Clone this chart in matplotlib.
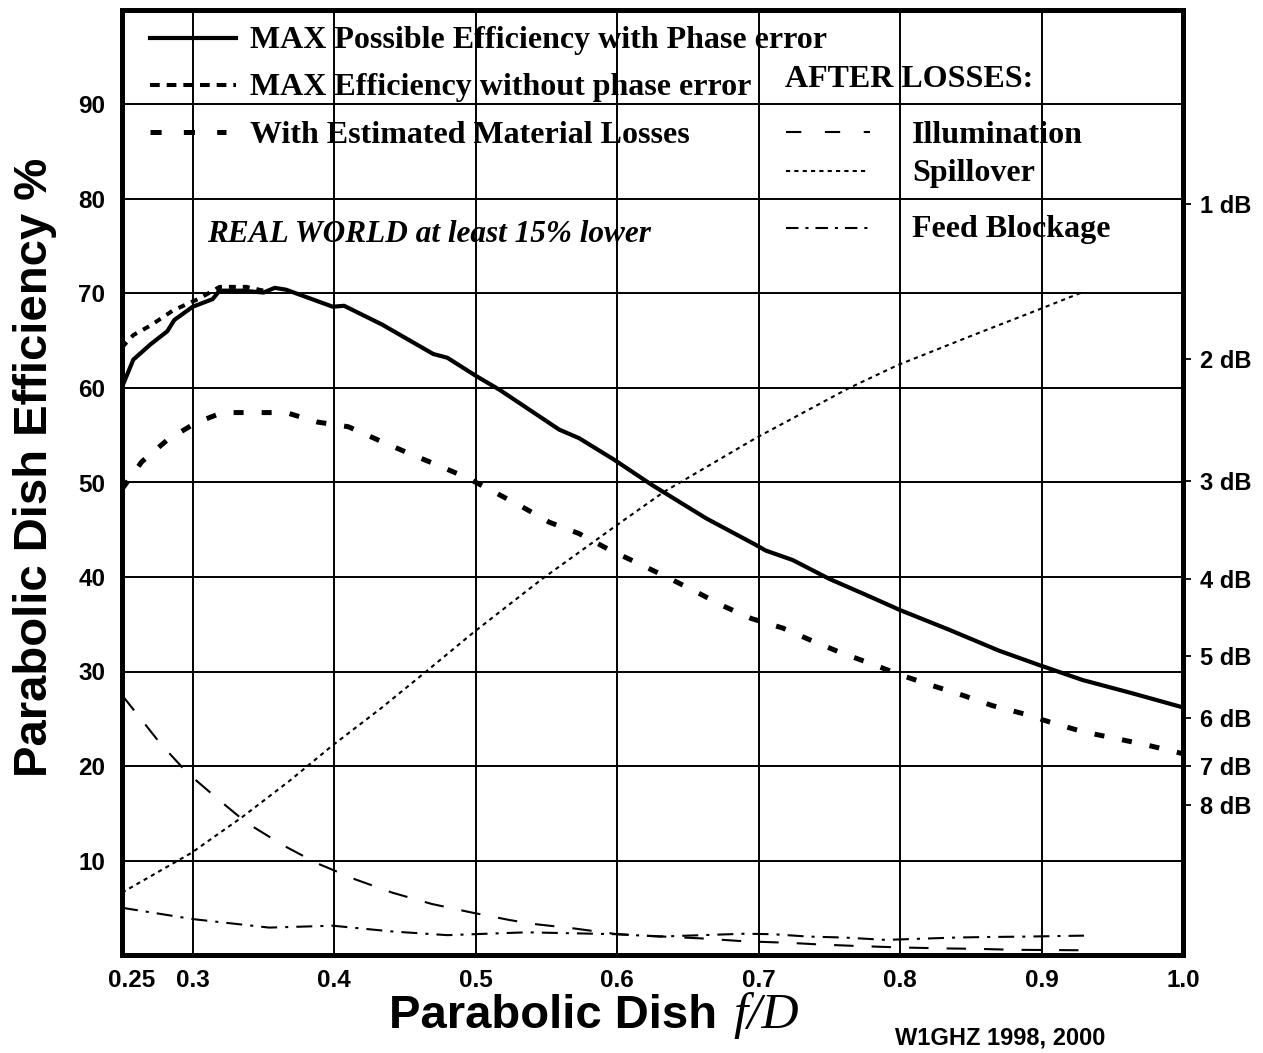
import matplotlib
matplotlib.use("Agg")
import matplotlib.pyplot as plt
from matplotlib.lines import Line2D
from matplotlib.transforms import ScaledTranslation

plt.rcParams['lines.scale_dashes'] = False
SANS = 'Liberation Sans'
SERIF = 'Liberation Serif'

# ---- data (f/D vs efficiency %) ----
fd_phase = [0.25, 0.258, 0.27, 0.282, 0.287, 0.30, 0.314, 0.319, 0.335, 0.35, 0.358, 0.366,
            0.399, 0.407, 0.434, 0.47, 0.48, 0.50, 0.517, 0.559, 0.573, 0.598, 0.625, 0.663,
            0.698, 0.705, 0.724, 0.75, 0.776, 0.80, 0.835, 0.87, 0.898, 0.929, 0.964, 1.0]
eff_phase = [60.1, 63.0, 64.6, 66.0, 67.2, 68.6, 69.4, 70.3, 70.3, 70.1, 70.6, 70.4,
             68.6, 68.7, 66.7, 63.6, 63.2, 61.3, 59.8, 55.6, 54.7, 52.4, 49.7, 46.2,
             43.4, 42.8, 41.8, 39.8, 38.1, 36.5, 34.4, 32.2, 30.7, 29.1, 27.7, 26.2]

fd_nophase = [0.25, 0.258, 0.27, 0.286, 0.305, 0.319, 0.338, 0.35]
eff_nophase = [64.3, 65.6, 66.6, 68.2, 69.5, 70.7, 70.7, 70.3]

fd_material = [0.25, 0.264, 0.282, 0.302, 0.321, 0.345, 0.366, 0.388, 0.41, 0.431, 0.451, 0.472,
               0.494, 0.532, 0.552, 0.573, 0.593, 0.614, 0.635, 0.655, 0.674, 0.695, 0.717,
               0.737, 0.758, 0.78, 0.801, 0.823, 0.844, 0.865, 0.888, 0.909, 0.93, 0.953,
               0.975, 1.0]
eff_material = [49.3, 52.2, 54.5, 56.3, 57.4, 57.4, 57.4, 56.4, 55.9, 54.5, 53.2, 51.9,
                50.5, 47.5, 45.8, 44.6, 43.0, 41.5, 40.0, 38.5, 37.0, 35.6, 34.6,
                33.3, 32.0, 30.8, 29.6, 28.5, 27.5, 26.4, 25.5, 24.5, 23.6, 22.9,
                22.2, 21.3]

fd_spill = [0.25, 0.299, 0.335, 0.369, 0.399, 0.433, 0.465, 0.499, 0.547, 0.598, 0.633,
            0.698, 0.764, 0.798, 0.85, 0.898, 0.93]
eff_spill = [6.6, 10.8, 14.6, 18.5, 22.2, 26.1, 30.0, 34.2, 39.8, 45.3, 49.0,
             54.7, 60.0, 62.4, 65.5, 68.3, 70.2]

fd_illum = [0.25, 0.277, 0.296, 0.317, 0.338, 0.364, 0.388, 0.415, 0.441, 0.469, 0.497,
            0.524, 0.54, 0.57, 0.6, 0.66, 0.69, 0.72, 0.745, 0.77, 0.8, 0.83, 0.855,
            0.88, 0.93]
eff_illum = [27.5, 22.4, 19.3, 16.6, 14.0, 11.6, 9.7, 8.0, 6.6, 5.4, 4.5,
             3.7, 3.3, 2.8, 2.2, 1.75, 1.45, 1.3, 1.1, 0.95, 0.8, 0.7, 0.65,
             0.55, 0.5]

fd_block = [0.25, 0.3, 0.354, 0.399, 0.44, 0.48, 0.517, 0.536, 0.6, 0.63, 0.69, 0.71,
            0.735, 0.76, 0.79, 0.81, 0.84, 0.86, 0.89, 0.93]
eff_block = [5.0, 3.8, 2.9, 3.1, 2.5, 2.1, 2.3, 2.4, 2.2, 1.95, 2.25, 2.2,
             1.95, 1.85, 1.6, 1.7, 1.85, 1.9, 1.95, 2.05]

x_ticks = [0.25, 0.3, 0.4, 0.5, 0.6, 0.7, 0.8, 0.9, 1.0]
x_labels = ['0.25', '0.3', '0.4', '0.5', '0.6', '0.7', '0.8', '0.9', '1.0']
y_ticks = [10, 20, 30, 40, 50, 60, 70, 80, 90]
db_values = [1, 2, 3, 4, 5, 6, 7, 8]

# line styles (points)
ST_SOLID = dict(color='black', lw=3.0, ls='-')
ST_NOPHASE = dict(color='black', lw=2.9, ls=(0, (5, 5)))
ST_MATERIAL = dict(color='black', lw=3.6, ls=(0, (7.2, 13)))
ST_SPILL = dict(color='black', lw=1.5, ls=(0, (3, 3)))
ST_ILLUM = dict(color='black', lw=1.5, ls=(0, (14, 13)))
ST_BLOCK = dict(color='black', lw=1.5, ls=(0, (11.5, 5.8, 2.2, 5.8)))

W, H = 1263, 1053
fig = plt.figure(figsize=(W / 100, H / 100), dpi=100)
ax = fig.add_axes([122 / W, 1 - 955 / H, (1183 - 122) / W, (955 - 10) / H])

ax.plot(fd_spill, eff_spill, **ST_SPILL)
ax.plot(fd_illum, eff_illum, **ST_ILLUM)
ax.plot(fd_block, eff_block, **ST_BLOCK)
ax.plot(fd_material, eff_material, **ST_MATERIAL)
ax.plot(fd_nophase, eff_nophase, **ST_NOPHASE)
ax.plot(fd_phase, eff_phase, **ST_SOLID)

ax.set_xlim(0.25, 1.0)
ax.set_ylim(0, 100)
ax.set_xticks(x_ticks)
ax.set_xticklabels(x_labels)
ax.set_yticks(y_ticks)
ax.grid(True, color='black', lw=1.4)
ax.set_axisbelow(True)
ax.tick_params(length=0, labelsize=17.5)
ax.tick_params(axis='y', pad=12)
ax.tick_params(axis='x', pad=10)
for lab in ax.get_xticklabels() + ax.get_yticklabels():
    lab.set_fontfamily(SANS)
    lab.set_fontweight('bold')
# the 0.25 label sits a little right of its tick in the original
first = ax.xaxis.get_major_ticks()[0].label1
first.set_transform(first.get_transform() + ScaledTranslation(0.10, 0, fig.dpi_scale_trans))
for sp in ax.spines.values():
    sp.set_linewidth(3.6)
    sp.set_zorder(5)

ax2 = ax.twinx()
ax2.set_ylim(0, 100)
ax2.set_yticks([100 * 10 ** (-d / 10) for d in db_values])
ax2.set_yticklabels([f'{d} dB' for d in db_values])
ax2.tick_params(axis='y', length=6, width=1.3, direction='out', pad=6, labelsize=17)
for lab in ax2.get_yticklabels():
    lab.set_fontfamily(SANS)
    lab.set_fontweight('bold')
for sp in ax2.spines.values():
    sp.set_visible(False)

# axis titles
fig.text(35 / W, 1 - 467 / H, 'Parabolic Dish Efficiency %', rotation=90,
         ha='center', va='center', fontsize=34, fontfamily=SANS, fontweight='bold')
fig.text(730 / W, 1 - 1028 / H, 'Parabolic Dish ', ha='right', va='baseline',
         fontsize=34, fontfamily=SANS, fontweight='bold')
fig.text(733 / W, 1 - 1028 / H, 'f/D', ha='left', va='baseline',
         fontsize=37, fontfamily=SERIF, fontstyle='italic')
fig.text(895 / W, 1 - 1027 / H, 'W1GHZ 1998, 2000', ha='left', va='top',
         fontsize=17, fontfamily=SANS, fontweight='bold')

# legend block (drawn by hand, as in the original)
def sample(x0, x1, y, style):
    fig.add_artist(Line2D([x0 / W, x1 / W], [1 - y / H, 1 - y / H],
                          transform=fig.transFigure, **style))

def label(x, y, s, size=23, style='normal'):
    fig.text(x / W, 1 - y / H, s, ha='left', va='baseline', fontsize=size,
             fontfamily=SERIF, fontweight='bold', fontstyle=style)

sample(150, 236, 38, ST_SOLID)
sample(150, 236, 85, dict(color='black', lw=2.9, ls=(0, (7, 5))))
sample(150, 226, 132, dict(color='black', lw=3.6, ls=(0, (8, 16))))
label(250, 48, 'MAX Possible Efficiency with Phase error')
label(250, 95, 'MAX Efficiency without phase error')
label(250, 143, 'With Estimated Material Losses')
label(785, 87, 'AFTER LOSSES:')

sample(786, 870, 132, dict(color='black', lw=1.5, ls=(0, (11, 17))))
sample(786, 868, 171, ST_SPILL)
sample(786, 870, 228, dict(color='black', lw=1.5, ls=(0, (9, 5, 2.2, 5))))
label(912, 143, 'Illumination')
label(912, 181, 'Spillover')
label(912, 237, 'Feed Blockage')

label(207, 242, 'REAL WORLD at least 15% lower', size=22.5, style='italic')

fig.savefig('out.png', dpi=100)
